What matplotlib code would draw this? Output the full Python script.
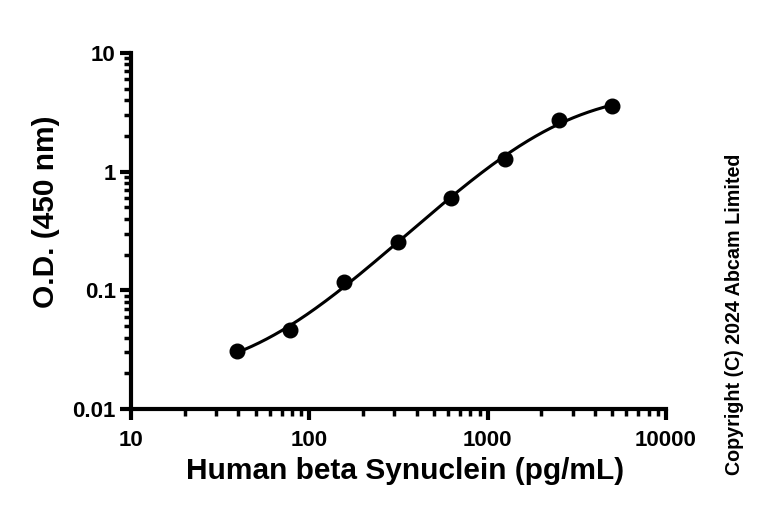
import numpy as np
import matplotlib
matplotlib.use("Agg")
import matplotlib.pyplot as plt
from matplotlib.ticker import LogLocator, NullFormatter, FixedLocator

plt.rcParams['font.family'] = ['Liberation Sans', 'DejaVu Sans']
plt.rcParams['font.weight'] = 'bold'

# standard curve data
conc = [39.06, 78.13, 156.25, 312.5, 625, 1250, 2500, 5000]
od = [0.031, 0.0463, 0.117, 0.257, 0.604, 1.286, 2.72, 3.58]

x_ticks = [10, 100, 1000, 10000]
x_labels = ["10", "100", "1000", "10000"]
y_ticks = [0.01, 0.1, 1, 10]
y_labels = ["0.01", "0.1", "1", "10"]


def fit_4pl(x, y):
    # grid search on EC50 and slope, bottom/top solved linearly (relative weights)
    x = np.asarray(x, float)
    y = np.asarray(y, float)
    w = 1.0 / y
    best = None
    for lc in np.linspace(2.5, 4.5, 201):
        for b in np.linspace(0.6, 2.5, 191):
            g = 1.0 / (1.0 + (x / 10**lc) ** b)
            A = np.column_stack([g, 1 - g]) * w[:, None]
            coef, *_ = np.linalg.lstsq(A, y * w, rcond=None)
            r = np.sum((A @ coef - y * w) ** 2)
            if best is None or r < best[0]:
                best = (r, coef[0], coef[1], 10**lc, b)
    return best[1:]


a, d, c, b = fit_4pl(conc, od)
xs = np.logspace(np.log10(conc[0]), np.log10(conc[-1]), 300)
ys = d + (a - d) / (1 + (xs / c) ** b)

fig = plt.figure(figsize=(7.68, 5.15), dpi=100)
ax = fig.add_axes([0.1706, 0.2058, 0.6966, 0.6913])

ax.plot(xs, ys, color="black", lw=2.2, zorder=2)
ax.plot(conc, od, "o", color="black", ms=10.5, zorder=3)

ax.set_xscale("log")
ax.set_yscale("log")
ax.set_xlim(10, 10000)
ax.set_ylim(0.01, 10)

ax.xaxis.set_major_locator(FixedLocator(x_ticks))
ax.set_xticklabels(x_labels)
ax.yaxis.set_major_locator(FixedLocator(y_ticks))
ax.set_yticklabels(y_labels)
for axis in (ax.xaxis, ax.yaxis):
    axis.set_minor_locator(LogLocator(base=10, subs=np.arange(2, 10), numticks=20))
    axis.set_minor_formatter(NullFormatter())

for s in ("top", "right"):
    ax.spines[s].set_visible(False)
for s in ("left", "bottom"):
    ax.spines[s].set_linewidth(3)

ax.tick_params(which="major", length=8, width=3, labelsize=16)
ax.tick_params(axis="x", which="major", pad=7)
ax.tick_params(axis="y", which="major", pad=3)
ax.tick_params(which="minor", length=5, width=2.5)

ax.set_xlabel("Human beta Synuclein (pg/mL)", fontsize=21.5, fontweight="bold")
ax.set_ylabel("O.D. (450 nm)", fontsize=21.5, fontweight="bold")
ax.xaxis.set_label_coords(0.512, -0.136)
ax.yaxis.set_label_coords(-0.133, 0.553)

fig.text(0.956, 0.39, "Copyright (C) 2024 Abcam Limited", rotation=90,
         fontsize=14.2, fontweight="bold", ha="center", va="center")

fig.savefig("out.png", dpi=100)
